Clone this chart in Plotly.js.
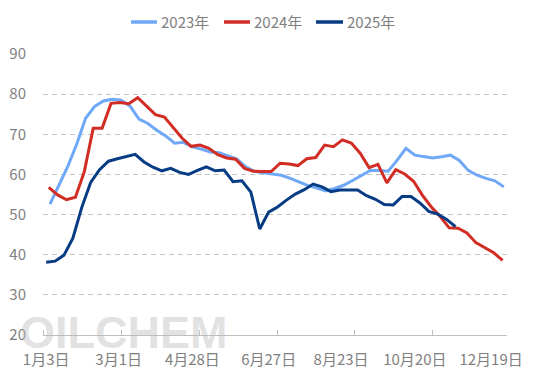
<!DOCTYPE html>
<html><head><meta charset="utf-8">
<script src="https://cdn.plot.ly/plotly-3.0.1.min.js"></script>
<style>html,body{margin:0;padding:0;background:#fff}#chart{width:554px;height:383px}</style>
</head><body><div id="chart"></div>
<script>
// ---- data ----
const seriesNames = ['2023年', '2024年', '2025年'];
const seriesColors = ['#6ea8f7', '#d22d25', '#073c84'];
const startDates = ['01-06', '01-05', '01-03']; // first weekly (Friday) observation of each year
const values2023 = [52.6, 57.5, 62.0, 67.5, 74.0, 76.9, 78.3, 78.7, 78.5, 77.0, 73.8, 72.7, 71.0, 69.6, 67.8, 68.0,
  66.9, 66.3, 65.6, 65.4, 64.6, 63.8, 61.9, 60.7, 60.4, 60.1, 59.8, 59.0, 58.0, 57.2, 56.6, 55.9,
  56.5, 57.3, 58.5, 59.8, 61.0, 61.0, 60.8, 63.5, 66.5, 64.8, 64.4, 64.1, 64.4, 64.8, 63.5, 61.0,
  59.8, 59.0, 58.4, 56.9];
const values2024 = [56.8, 54.9, 53.7, 54.3, 60.7, 71.5, 71.5, 77.7, 77.9, 77.6, 79.1, 76.9, 74.9, 74.3, 71.5, 69.0,
  67.0, 67.3, 66.5, 64.9, 64.1, 63.8, 61.5, 60.8, 60.7, 60.7, 62.8, 62.6, 62.2, 63.9, 64.2, 67.3,
  66.9, 68.6, 67.8, 65.3, 61.7, 62.5, 57.9, 61.2, 60.1, 58.3, 54.8, 51.9, 49.5, 46.7, 46.6, 45.4,
  43.0, 41.8, 40.5, 38.6];
const values2025 = [38.1, 38.4, 39.9, 44.1, 51.8, 58.0, 61.2, 63.3, 63.9, 64.4, 65.0, 63.1, 61.8, 60.9, 61.5, 60.5,
  60.0, 61.0, 61.9, 60.9, 61.1, 58.2, 58.4, 55.6, 46.4, 50.6, 51.9, 53.6, 55.1, 56.2, 57.6, 56.9,
  55.7, 56.1, 56.1, 56.1, 54.7, 53.8, 52.5, 52.4, 54.5, 54.5, 52.9, 50.8, 50.1, 48.8, 47.0];
const tickLabels = ['1月3日', '3月1日', '4月28日', '6月27日', '8月23日', '10月20日', '12月19日'];
const tickDates = ['01-03', '03-01', '04-28', '06-27', '08-23', '10-20', '12-19'];
const yTicks = [20, 30, 40, 50, 60, 70, 80, 90];

// ---- helpers ----
function doy(mmdd) {
  const [m, d] = mmdd.split('-').map(Number);
  return (Date.UTC(2025, m - 1, d) - Date.UTC(2025, 0, 1)) / 86400000;
}
function weekly(start, n) { const s = doy(start); return Array.from({length: n}, (_, i) => s + 7 * i); }

const allValues = [values2023, values2024, values2025];
const traces = allValues.map((v, i) => ({
  type: 'scatter', mode: 'lines', name: seriesNames[i],
  x: weekly(startDates[i], v.length), y: v,
  line: {color: seriesColors[i], width: 3},
  showlegend: false
}));

// plot area in pixels
const L = 43, R = 507, T = 54, B = 335;
const px2x = p => (p - L) / (R - L);
const py2y = p => (B - p) / (B - T);

const font = 'Microsoft YaHei, "Noto Sans CJK SC", sans-serif';
const gray = '#7f7f7f';

// custom legend
const legSw = [[131, 157], [224, 250], [316, 343]];
const legY = 22;
const shapes = legSw.map((s, i) => ({
  type: 'line', xref: 'paper', yref: 'paper',
  x0: px2x(s[0]), x1: px2x(s[1]), y0: py2y(legY), y1: py2y(legY),
  line: {color: seriesColors[i], width: 3.5}
}));
const annotations = legSw.map((s, i) => ({
  xref: 'paper', yref: 'paper', x: px2x(s[1] + 2), y: py2y(legY),
  xanchor: 'left', yanchor: 'middle', showarrow: false,
  text: seriesNames[i], font: {family: font, size: 15, color: gray}
}));
// watermark
annotations.unshift({
  xref: 'paper', yref: 'paper', x: px2x(124), y: py2y(332),
  xanchor: 'center', yanchor: 'middle', showarrow: false,
  height: 32, valign: 'middle',
  text: 'OILCHEM', font: {family: 'Liberation Sans, Arial, sans-serif', size: 45, weight: 'bold', color: 'rgba(185,185,185,0.42)'}
});

const layout = {
  width: 554, height: 383,
  margin: {l: L, r: 554 - R, t: T, b: 383 - B, pad: 0},
  paper_bgcolor: '#fff', plot_bgcolor: '#fff',
  showlegend: false,
  font: {family: font, size: 15, color: gray},
  xaxis: {
    range: [-0.5, 364.5], tickmode: 'array',
    tickvals: tickDates.map(doy), ticktext: tickLabels,
    ticks: '', showgrid: false, zeroline: false,
    showline: true, linecolor: '#bfbfbf', linewidth: 1,
    ticklabelstandoff: 11,
    tickfont: {family: font, size: 15, color: gray},
    minor: {tickmode: 'array', tickvals: [-0.5, 60.9, 122.3, 183.6, 244.9, 306.2], ticks: 'inside', ticklen: 5, tickcolor: '#bfbfbf', tickwidth: 1, showgrid: false}
  },
  yaxis: {
    range: [20, 90], tickmode: 'array', tickvals: yTicks,
    ticks: '', showline: false, zeroline: false,
    showgrid: true, gridcolor: '#c4c4c4', gridwidth: 1, griddash: '5px,4px',
    ticklabelstandoff: 16,
    tickfont: {family: font, size: 15, color: gray}
  },
  shapes: shapes,
  annotations: annotations
};

Plotly.newPlot('chart', traces, layout, {staticPlot: true, displayModeBar: false});
</script>
</body></html>
